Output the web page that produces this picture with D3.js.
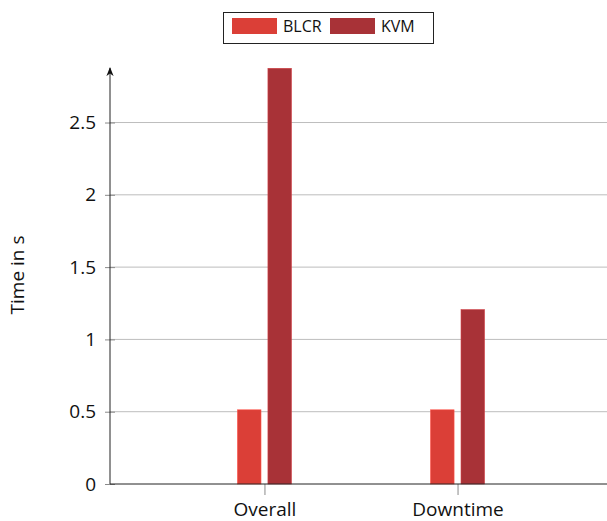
<!DOCTYPE html>
<html>
<head>
<meta charset="utf-8">
<script src="https://cdn.jsdelivr.net/npm/d3@7"></script>
<style>
  html, body { margin: 0; padding: 0; background: #fff; }
  svg { display: block; }
  text { font-family: "Open Sans", "Noto Sans", sans-serif; fill: #111; }
</style>
</head>
<body>
<svg id="chart" width="607" height="521"></svg>
<script>
// Migration timing, seconds
const categories = ["Overall", "Downtime"];
const seriesNames = ["BLCR", "KVM"];
const blcrValues = [0.513, 0.513];
const kvmValues = [2.875, 1.206];
const yTicks = [0, 0.5, 1, 1.5, 2, 2.5];
const yTickLabels = ["0", "0.5", "1", "1.5", "2", "2.5"];
const colors = { BLCR: "#db3f37", KVM: "#a83237" };

const series = [
  { name: seriesNames[0], values: blcrValues },
  { name: seriesNames[1], values: kvmValues }
];

const svg = d3.select("#chart");
const plot = { left: 110, right: 612, top: 68, bottom: 484 };
const labelSize = "19px";

const x = d3.scalePoint()
  .domain(categories)
  .range([plot.left, plot.right])
  .padding(0.8);

const y = d3.scaleLinear()
  .domain([0, 2.875])
  .range([plot.bottom, plot.top + 0.3]);

const barWidth = 23.5;
const barOffset = d3.scaleBand()
  .domain(seriesNames)
  .range([-28, 28])
  .paddingInner(4.5 / 28)
  .paddingOuter(0);

// horizontal grid
svg.append("g")
  .selectAll("line")
  .data(yTicks.slice(1))
  .join("line")
  .attr("x1", plot.left).attr("x2", 607)
  .attr("y1", d => y(d)).attr("y2", d => y(d))
  .attr("stroke", "#bdbdbd").attr("stroke-width", 1);

// bars
const groups = svg.append("g")
  .selectAll("g")
  .data(series)
  .join("g")
  .attr("fill", d => colors[d.name]);

groups.selectAll("rect")
  .data(s => s.values.map((v, i) => ({ name: s.name, cat: categories[i], value: v })))
  .join("rect")
  .attr("x", d => x(d.cat) + barOffset(d.name) + (barOffset.bandwidth() - barWidth) / 2)
  .attr("width", barWidth)
  .attr("y", d => y(d.value))
  .attr("height", d => y(0) - y(d.value))
  .attr("stroke", d => d3.color(colors[d.name]).brighter(0.6))
  .attr("stroke-width", 0.6);

// y axis
const yAxis = d3.axisLeft(y)
  .tickValues(yTicks)
  .tickFormat((d, i) => yTickLabels[i])
  .tickSizeInner(5)
  .tickSizeOuter(0)
  .tickPadding(9);

const yg = svg.append("g")
  .attr("transform", `translate(${plot.left},0)`)
  .call(yAxis);
yg.select(".domain").remove();
yg.selectAll(".tick line").attr("x2", 5).attr("x1", -5).attr("stroke", "#8a8a8a");
yg.selectAll(".tick text").style("font-size", labelSize).attr("fill", "#111");

// y axis line with arrow
svg.append("defs").append("marker")
  .attr("id", "arrow")
  .attr("viewBox", "0 0 10 10")
  .attr("refX", 9).attr("refY", 5)
  .attr("markerWidth", 9).attr("markerHeight", 9)
  .attr("markerUnits", "userSpaceOnUse")
  .attr("orient", "auto")
  .append("path")
  .attr("d", "M0,1 L10,5 L0,9 L3,5 Z")
  .attr("fill", "#111");

svg.append("line")
  .attr("x1", plot.left).attr("x2", plot.left)
  .attr("y1", plot.bottom).attr("y2", 68)
  .attr("stroke", "#222").attr("stroke-width", 1)
  .attr("marker-end", "url(#arrow)");

// x axis
const xAxis = d3.axisBottom(x).tickSizeInner(11).tickSizeOuter(0).tickPadding(8);
const xg = svg.append("g")
  .attr("transform", `translate(0,${plot.bottom})`)
  .call(xAxis);
xg.select(".domain").remove();
xg.selectAll(".tick line").attr("stroke", "#8a8a8a");
xg.selectAll(".tick text").style("font-size", labelSize).attr("fill", "#111");

svg.append("line")
  .attr("x1", plot.left).attr("x2", 607)
  .attr("y1", plot.bottom).attr("y2", plot.bottom)
  .attr("stroke", "#222").attr("stroke-width", 1);

// y axis title
svg.append("text")
  .attr("transform", "translate(24,275) rotate(-90)")
  .attr("text-anchor", "middle")
  .style("font-size", labelSize)
  .text("Time in s");

// legend
const legend = svg.append("g");
legend.append("rect")
  .attr("x", 223.5).attr("y", 12.5)
  .attr("width", 210).attr("height", 31)
  .attr("fill", "#fff").attr("stroke", "#222").attr("stroke-width", 1);

const legendX = [232, 330];
seriesNames.forEach((name, i) => {
  legend.append("rect")
    .attr("x", legendX[i]).attr("y", 18)
    .attr("width", 45).attr("height", 16)
    .attr("fill", colors[name]);
  legend.append("text")
    .attr("x", legendX[i] + 51).attr("y", 32)
    .style("font-size", "16px")
    .text(name);
});
</script>
</body>
</html>
